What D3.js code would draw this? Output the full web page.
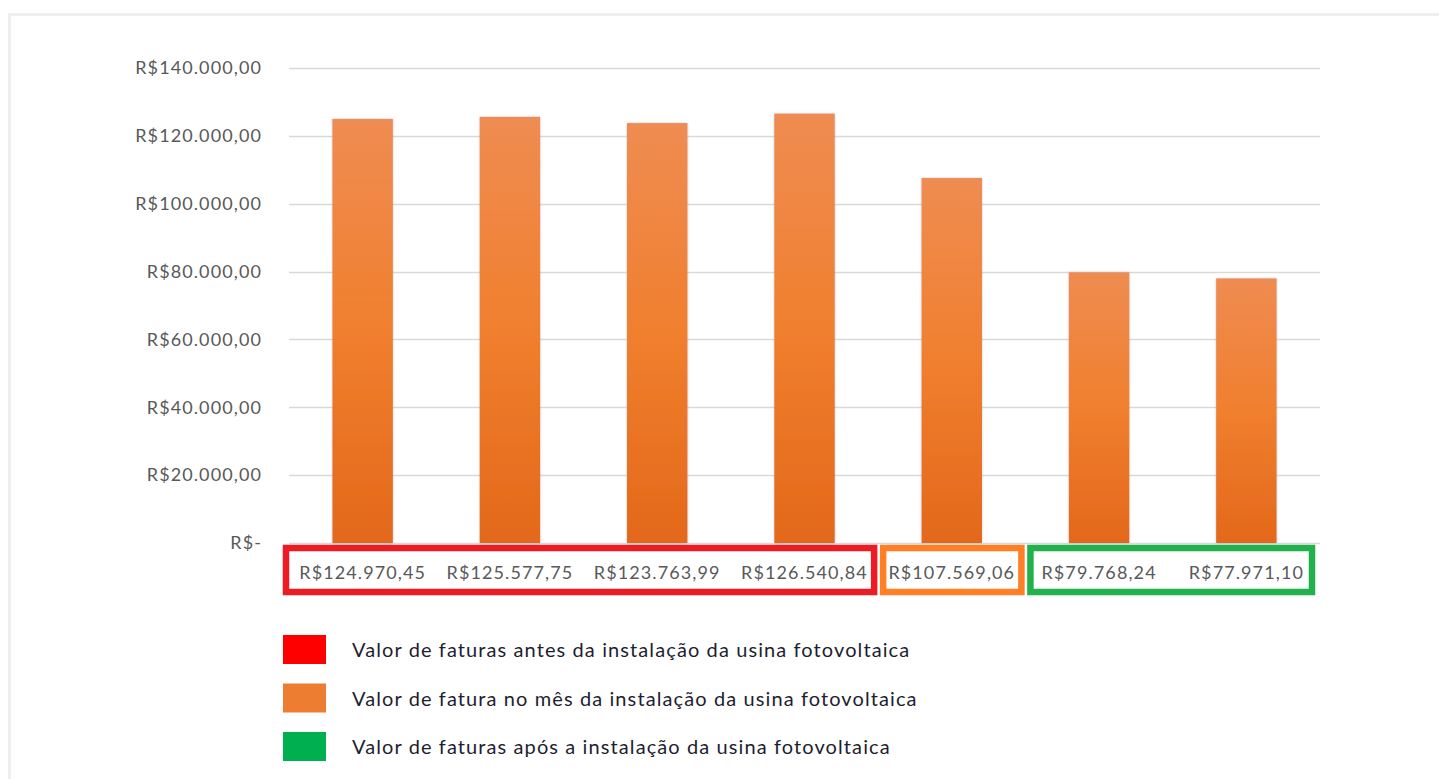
<!DOCTYPE html>
<html>
<head>
<meta charset="utf-8">
<script src="https://cdn.jsdelivr.net/npm/d3@7"></script>
<style>
  body { margin: 0; background: #fff; }
  text { font-family: Lato, "Open Sans", sans-serif; }
</style>
</head>
<body>
<script>
// chart data
var valores = [124970.45, 125577.75, 123763.99, 126540.84, 107569.06, 79768.24, 77971.10];
var grupos = ["antes", "antes", "antes", "antes", "mes", "apos", "apos"];
var yTicks = [0, 20000, 40000, 60000, 80000, 100000, 120000, 140000];
var legendaTextos = [
  "Valor de faturas antes da instalação da usina fotovoltaica",
  "Valor de fatura no mês da instalação da usina fotovoltaica",
  "Valor de faturas após a instalação da usina fotovoltaica"
];
var legendaCores = ["#ff0000", "#ed7d31", "#00b050"];
var caixaCores = { antes: "#ed1c24", mes: "#ff7f27", apos: "#22b14c" };

var width = 1439, height = 779;

// formata no estilo brasileiro R$124.970,45
var fmtLoc = d3.formatLocale({ decimal: ",", thousands: ".", grouping: [3], currency: ["R$", ""] });
var fmt = fmtLoc.format("$,.2f");

var svg = d3.select("body").append("svg")
  .attr("width", width)
  .attr("height", height);

var defs = svg.append("defs");
var grad = defs.append("linearGradient").attr("id", "barra")
  .attr("x1", 0).attr("y1", 0).attr("x2", 0).attr("y2", 1);
grad.append("stop").attr("offset", "0%").attr("stop-color", "#ef8c52");
grad.append("stop").attr("offset", "50%").attr("stop-color", "#f07f2e");
grad.append("stop").attr("offset", "100%").attr("stop-color", "#e3681a");

var sombra = defs.append("filter").attr("id", "sombra")
  .attr("x", "-20%").attr("y", "-5%").attr("width", "140%").attr("height", "110%");
sombra.append("feDropShadow").attr("dx", 0).attr("dy", 0)
  .attr("stdDeviation", 1.2).attr("flood-color", "#7a8a99").attr("flood-opacity", 0.5);

// moldura externa clara
svg.append("rect")
  .attr("x", 9.5).attr("y", 14.5)
  .attr("width", 1460).attr("height", 800)
  .attr("fill", "none").attr("stroke", "#efefef").attr("stroke-width", 3);

var x = d3.scaleBand()
  .domain(d3.range(valores.length))
  .range([289, 1320])
  .paddingInner(0.59)
  .paddingOuter(0.295);

var y = d3.scaleLinear()
  .domain([0, 140000])
  .range([543, 68]);

// gridlines
svg.append("g")
  .selectAll("line")
  .data(yTicks)
  .enter().append("line")
  .attr("x1", 289).attr("x2", 1320)
  .attr("y1", function(d) { return Math.round(y(d)) + 0.5; })
  .attr("y2", function(d) { return Math.round(y(d)) + 0.5; })
  .attr("stroke", "#d9d9d9")
  .attr("stroke-width", 1.3);

// eixo y
var yAxis = d3.axisLeft(y)
  .tickValues(yTicks)
  .tickSize(0)
  .tickPadding(0)
  .tickFormat(function(d) { return d === 0 ? "R$-" : fmt(d); });

svg.append("g")
  .attr("transform", "translate(262,0)")
  .call(yAxis)
  .call(function(g) { g.select(".domain").remove(); })
  .selectAll("text")
  .attr("fill", "#595959")
  .style("font-size", "18px")
  .style("letter-spacing", "1.1px")
  .style("font-family", "Lato, 'Open Sans', sans-serif");

// barras
svg.append("g")
  .selectAll("rect")
  .data(valores)
  .enter().append("rect")
  .attr("x", function(d, i) { return x(i); })
  .attr("y", function(d) { return y(d); })
  .attr("width", x.bandwidth())
  .attr("height", function(d) { return y(0) - y(d); })
  .attr("fill", "url(#barra)")
  .attr("filter", "url(#sombra)");

// caixas coloridas em volta dos rotulos
var blocos = [];
grupos.forEach(function(g, i) {
  var ult = blocos[blocos.length - 1];
  if (ult && ult.grupo === g) ult.fim = i;
  else blocos.push({ grupo: g, ini: i, fim: i });
});

var step = x.step();
function inicio(i) { return x(i) + x.bandwidth() / 2 - step / 2; }
function bordaEsq(d) { return inicio(d.ini) + (d.ini === 0 ? -3 : 5); }
function bordaDir(d) { return inicio(d.fim) + step - (d.fim === valores.length - 1 ? 8 : 4); }

svg.append("g")
  .selectAll("rect")
  .data(blocos)
  .enter().append("rect")
  .attr("x", bordaEsq)
  .attr("y", 548)
  .attr("width", function(d) { return bordaDir(d) - bordaEsq(d); })
  .attr("height", 44)
  .attr("fill", "none")
  .attr("stroke", function(d) { return caixaCores[d.grupo]; })
  .attr("stroke-width", 6.5);

// rotulos das categorias
svg.append("g")
  .selectAll("text")
  .data(valores)
  .enter().append("text")
  .attr("x", function(d, i) { return x(i) + x.bandwidth() / 2; })
  .attr("y", 579)
  .attr("text-anchor", "middle")
  .attr("fill", "#595959")
  .style("font-size", "18px")
  .style("letter-spacing", "1.1px")
  .text(function(d) { return fmt(d); });

// legenda
var leg = svg.append("g")
  .selectAll("g")
  .data(legendaTextos)
  .enter().append("g")
  .attr("transform", function(d, i) { return "translate(283," + (635 + i * 48.5) + ")"; });

leg.append("rect")
  .attr("width", 43).attr("height", 29)
  .attr("fill", function(d, i) { return legendaCores[i]; });

leg.append("text")
  .attr("x", 69).attr("y", 22)
  .attr("fill", "#1e1e30")
  .style("font-size", "20px")
  .style("letter-spacing", "1.1px")
  .text(function(d) { return d; });
</script>
</body>
</html>
